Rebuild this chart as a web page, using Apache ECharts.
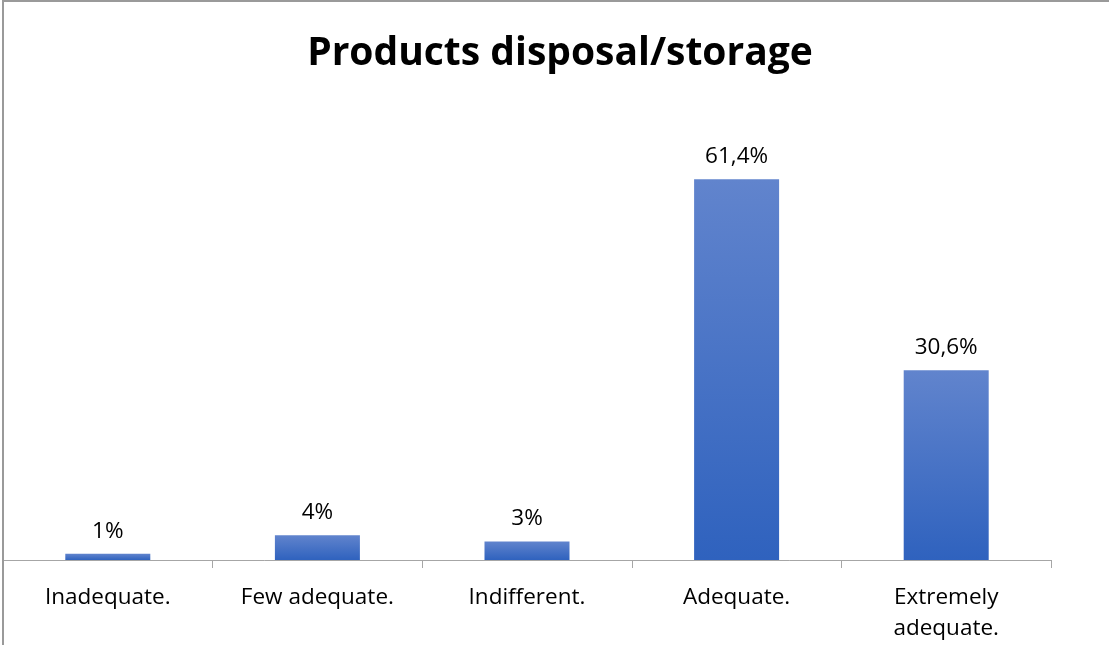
<!DOCTYPE html>
<html>
<head>
<meta charset="utf-8">
<script src="https://cdn.jsdelivr.net/npm/echarts@6/dist/echarts.min.js"></script>
<style>
  html, body { margin: 0; padding: 0; background: #fff; }
  #chart { width: 1109px; height: 645px; }
  #frame { position: absolute; left: 2px; top: 0; width: 1107px; height: 645px;
           border-top: 2px solid #9a9a9a; border-left: 2px solid #9a9a9a; box-sizing: border-box; pointer-events: none; }
</style>
</head>
<body>
<div id="chart"></div>
<div id="frame"></div>
<script>
const categories = ['Inadequate.', 'Few adequate.', 'Indifferent.', 'Adequate.', 'Extremely\nadequate.'];
const values = [1, 4, 3, 61.4, 30.6];
const labels = ['1%', '4%', '3%', '61,4%', '30,6%'];

const chart = echarts.init(document.getElementById('chart'));

const option = {
  animation: false,
  title: {
    text: 'Products disposal/storage',
    left: 555,
    textAlign: 'center',
    top: 29,
    textStyle: { fontFamily: 'Open Sans', fontWeight: 'bold', fontSize: 39, color: '#000' }
  },
  grid: { left: 3, right: 58, top: 126, bottom: 85 },
  xAxis: {
    type: 'category',
    data: categories,
    axisLine: { lineStyle: { color: '#a6a6a6', width: 1 } },
    axisTick: { show: true, length: 8, lineStyle: { color: '#a6a6a6' } },
    axisLabel: {
      fontFamily: 'Open Sans', fontSize: 22.5, color: '#000',
      margin: 22, lineHeight: 31, interval: 0
    }
  },
  yAxis: {
    type: 'value', min: 0, max: 70,
    show: false,
    splitLine: { show: false }
  },
  series: [{
    type: 'bar',
    data: values,
    barWidth: 85,
    itemStyle: {
      color: new echarts.graphic.LinearGradient(0, 0, 0, 1, [
        { offset: 0, color: '#6184cd' },
        { offset: 1, color: '#2f62be' }
      ])
    },
    label: {
      show: true,
      position: 'top',
      distance: 11,
      fontFamily: 'Open Sans', fontSize: 22.5, color: '#000',
      formatter: p => labels[p.dataIndex]
    }
  }]
};

chart.setOption(option);
</script>
</body>
</html>
